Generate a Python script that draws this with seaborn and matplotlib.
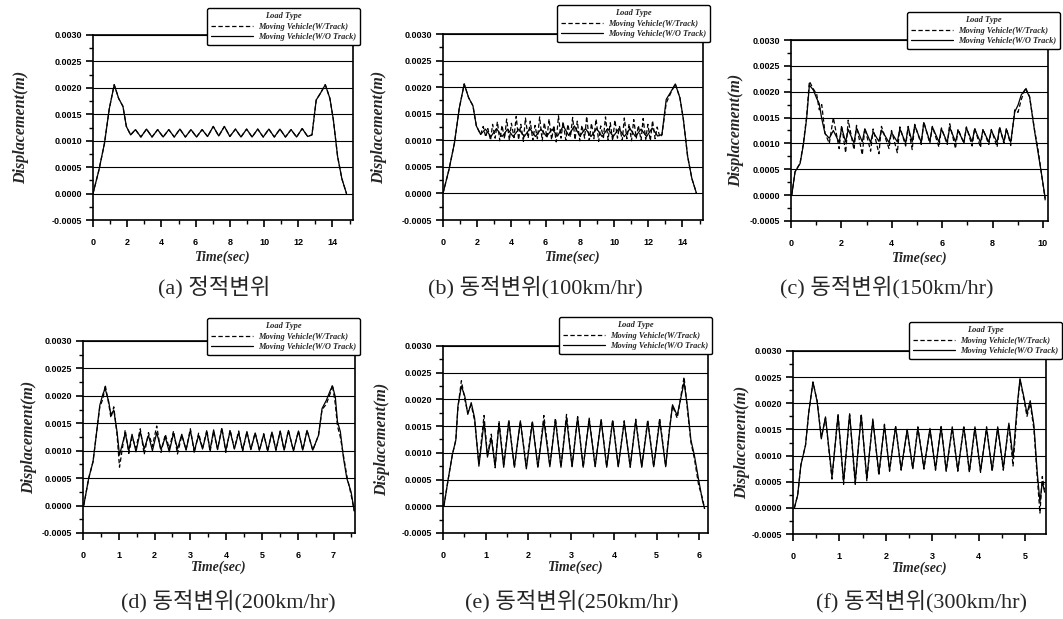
import matplotlib
matplotlib.use("Agg")
import matplotlib.pyplot as plt
from matplotlib.ticker import MultipleLocator, FuncFormatter
from matplotlib.font_manager import FontProperties
import seaborn as sns

# ---------------- data ----------------
series_names = ["Moving Vehicle(W/Track)", "Moving Vehicle(W/O Track)"]
legend_title = "Load Type"
captions = ["(a) 정적변위", "(b) 동적변위(100km/hr)", "(c) 동적변위(150km/hr)",
            "(d) 동적변위(200km/hr)", "(e) 동적변위(250km/hr)", "(f) 동적변위(300km/hr)"]
x_label = "Time(sec)"
y_label = "Displacement(m)"

# (a) static, both load types coincide
a_t = [0.00, 0.35, 0.67, 0.95, 1.24, 1.50, 1.75, 1.95, 2.20,
       2.48, 2.80, 3.13, 3.45, 3.78, 4.10, 4.43, 4.75, 5.08, 5.40, 5.73, 6.05, 6.38, 6.70, 7.03, 7.35,
       7.68, 8.00, 8.33, 8.65, 8.98, 9.30, 9.63, 9.95, 10.28, 10.60, 10.93, 11.25, 11.58, 11.90, 12.23, 12.55,
       12.80, 13.05, 13.30, 13.58, 13.85, 14.05, 14.30, 14.55, 14.82]
a_y = [0.0, 0.00045, 0.00095, 0.00160, 0.00206, 0.00180, 0.00165, 0.00127, 0.00111,
       0.00121, 0.00107, 0.00122, 0.00107, 0.00121, 0.00107, 0.00121, 0.00107, 0.00122, 0.00107, 0.00121, 0.00107,
       0.00121, 0.00108, 0.00127, 0.00109, 0.00127, 0.00108, 0.00122, 0.00107, 0.00122, 0.00107, 0.00122, 0.00107,
       0.00122, 0.00107, 0.00122, 0.00107, 0.00121, 0.00107, 0.00123, 0.00108,
       0.00111, 0.00177, 0.00190, 0.00206, 0.00180, 0.00140, 0.00070, 0.00028, 0.0]

# (b) 100 km/hr
b_wo_t = a_t
b_wo_y = a_y
b_w_t = [0.00, 0.35, 0.67, 0.95, 1.24, 1.50, 1.75, 1.95, 2.20,
         2.35, 2.50, 2.62, 2.78, 2.90, 3.05, 3.18, 3.32, 3.45, 3.60, 3.72, 3.88, 4.00, 4.15, 4.28, 4.42, 4.55,
         4.70, 4.82, 4.98, 5.10, 5.25, 5.38, 5.52, 5.65, 5.80, 5.92, 6.08, 6.20, 6.35, 6.48, 6.62, 6.75, 6.90,
         7.02, 7.18, 7.30, 7.45, 7.58, 7.72, 7.85, 8.00, 8.12, 8.28, 8.40, 8.55, 8.68, 8.82, 8.95, 9.10, 9.22,
         9.38, 9.50, 9.65, 9.78, 9.92, 10.05, 10.20, 10.32, 10.48, 10.60, 10.75, 10.88, 11.02, 11.15, 11.30,
         11.42, 11.58, 11.70, 11.85, 11.98, 12.12, 12.25, 12.40, 12.52, 12.68,
         12.80, 13.05, 13.30, 13.58, 13.85, 14.05, 14.30, 14.55, 14.82]
b_w_y = [0.0, 0.00045, 0.00095, 0.00160, 0.00206, 0.00180, 0.00165, 0.00127, 0.00111,
         0.00126, 0.00106, 0.00122, 0.00100, 0.00130, 0.00104, 0.00135, 0.00099, 0.00128, 0.00103,
         0.00140, 0.00100, 0.00132, 0.00105, 0.00145, 0.00101, 0.00130, 0.00098, 0.00142, 0.00104,
         0.00136, 0.00100, 0.00128, 0.00103, 0.00144, 0.00099, 0.00133, 0.00105, 0.00140, 0.00101,
         0.00128, 0.00097, 0.00146, 0.00104, 0.00135, 0.00100, 0.00130, 0.00106, 0.00143, 0.00101,
         0.00136, 0.00099, 0.00128, 0.00104, 0.00145, 0.00100, 0.00132, 0.00103, 0.00140, 0.00098,
         0.00127, 0.00105, 0.00144, 0.00101, 0.00133, 0.00099, 0.00138, 0.00104, 0.00126, 0.00100,
         0.00142, 0.00103, 0.00131, 0.00099, 0.00139, 0.00104, 0.00128, 0.00100, 0.00141, 0.00102,
         0.00130, 0.00099, 0.00137, 0.00103, 0.00125, 0.00106,
         0.00110, 0.00170, 0.00188, 0.00206, 0.00180, 0.00140, 0.00070, 0.00028, 0.0]

# (c) 150 km/hr
c_t = [0.03, 0.16, 0.36, 0.49, 0.62, 0.73, 0.89, 1.02, 1.12, 1.22, 1.35, 1.52,
       1.68, 1.91, 2.01, 2.17, 2.27, 2.50, 2.60, 2.83, 2.93, 3.16, 3.26, 3.49, 3.59, 3.89, 3.99, 4.22,
       4.32, 4.55, 4.65, 4.81, 4.91, 5.17, 5.27, 5.51, 5.61, 5.87, 5.97, 6.20, 6.30, 6.53, 6.63, 6.86,
       6.96, 7.19, 7.29, 7.52, 7.62, 7.85, 7.95, 8.18, 8.28, 8.45, 8.55, 8.72,
       8.88, 9.01, 9.14, 9.31, 9.47, 9.67, 9.80, 9.93, 10.09]
c_wo_y = [0.0, 0.00045, 0.00061, 0.00097, 0.00148, 0.00213, 0.00203, 0.00187, 0.00177, 0.00148, 0.00119, 0.00110,
          0.00125, 0.00102, 0.00130, 0.00103, 0.00127, 0.00101, 0.00130, 0.00103, 0.00128, 0.00102, 0.00122,
          0.00104, 0.00126, 0.00102, 0.00121, 0.00103, 0.00128, 0.00101, 0.00131, 0.00103, 0.00135, 0.00102,
          0.00140, 0.00104, 0.00132, 0.00103, 0.00128, 0.00102, 0.00131, 0.00103, 0.00125, 0.00102, 0.00130,
          0.00103, 0.00128, 0.00102, 0.00126, 0.00103, 0.00125, 0.00102, 0.00130, 0.00103, 0.00127, 0.00102,
          0.00161, 0.00174, 0.00194, 0.00205, 0.00190, 0.00123, 0.00084, 0.00045, -0.00006]
c_w_y = [0.0, 0.00045, 0.00062, 0.00100, 0.00152, 0.00220, 0.00205, 0.00195, 0.00165, 0.00175, 0.00120, 0.00100,
         0.00150, 0.00090, 0.00135, 0.00082, 0.00145, 0.00088, 0.00135, 0.00078, 0.00130, 0.00085, 0.00128,
         0.00080, 0.00133, 0.00090, 0.00125, 0.00082, 0.00132, 0.00095, 0.00133, 0.00088, 0.00137, 0.00098,
         0.00142, 0.00100, 0.00133, 0.00093, 0.00130, 0.00098, 0.00138, 0.00090, 0.00128, 0.00100, 0.00132,
         0.00095, 0.00130, 0.00092, 0.00128, 0.00098, 0.00127, 0.00093, 0.00132, 0.00100, 0.00130, 0.00096,
         0.00165, 0.00160, 0.00185, 0.00208, 0.00190, 0.00125, 0.00090, 0.00045, -0.00010]

# (d) 200 km/hr
d_t = [0.02, 0.16, 0.28, 0.37, 0.47, 0.56, 0.62, 0.72, 0.78, 0.86, 0.95, 1.02,
       1.18, 1.28, 1.37, 1.48, 1.60, 1.71, 1.83, 1.94, 2.06, 2.18, 2.30, 2.41, 2.53, 2.64, 2.76, 2.88,
       3.00, 3.11, 3.23, 3.34, 3.46, 3.55, 3.65, 3.76, 3.88, 3.99, 4.11, 4.23, 4.35, 4.46, 4.58, 4.69,
       4.81, 4.93, 5.05, 5.16, 5.28, 5.39, 5.51, 5.62, 5.74, 5.88, 6.02, 6.14, 6.26, 6.42,
       6.58, 6.68, 6.80, 6.91, 6.97, 7.05, 7.11, 7.19, 7.28, 7.37, 7.49, 7.58]
d_wo_y = [0.0, 0.00050, 0.00080, 0.00128, 0.00183, 0.00204, 0.00213, 0.00189, 0.00165, 0.00174, 0.00135, 0.00092,
          0.00132, 0.00100, 0.00130, 0.00098, 0.00135, 0.00103, 0.00128, 0.00100, 0.00133, 0.00102, 0.00125,
          0.00098, 0.00132, 0.00103, 0.00130, 0.00101, 0.00137, 0.00100, 0.00128, 0.00103, 0.00135, 0.00101,
          0.00138, 0.00102, 0.00140, 0.00100, 0.00136, 0.00103, 0.00133, 0.00101, 0.00135, 0.00102, 0.00132,
          0.00101, 0.00130, 0.00100, 0.00134, 0.00101, 0.00136, 0.00101, 0.00137, 0.00100, 0.00136, 0.00101,
          0.00137, 0.00101,
          0.00128, 0.00177, 0.00192, 0.00210, 0.00218, 0.00198, 0.00153, 0.00135, 0.00086, 0.00050, 0.00025, -0.00010]
d_w_y = [0.0, 0.00050, 0.00080, 0.00128, 0.00180, 0.00195, 0.00220, 0.00185, 0.00160, 0.00180, 0.00130, 0.00070,
         0.00138, 0.00095, 0.00125, 0.00105, 0.00140, 0.00093, 0.00133, 0.00108, 0.00145, 0.00097, 0.00130,
         0.00104, 0.00136, 0.00094, 0.00128, 0.00102, 0.00140, 0.00096, 0.00132, 0.00104, 0.00138, 0.00098,
         0.00135, 0.00103, 0.00142, 0.00097, 0.00138, 0.00104, 0.00136, 0.00099, 0.00134, 0.00103, 0.00133,
         0.00100, 0.00131, 0.00099, 0.00134, 0.00101, 0.00135, 0.00101, 0.00137, 0.00100, 0.00136, 0.00101,
         0.00137, 0.00101,
         0.00128, 0.00175, 0.00185, 0.00205, 0.00220, 0.00185, 0.00145, 0.00125, 0.00090, 0.00055, 0.00020, -0.00010]

# (e) 250 km/hr
e_t = [0.02, 0.12, 0.22, 0.30, 0.35, 0.43, 0.51, 0.58, 0.66, 0.74, 0.84,
       0.96, 1.04, 1.13, 1.22, 1.31, 1.42, 1.54, 1.67, 1.81, 1.95, 2.09, 2.22, 2.36, 2.50, 2.63, 2.76,
       2.89, 3.02, 3.15, 3.28, 3.42, 3.56, 3.70, 3.83, 3.97, 4.10, 4.24, 4.38, 4.51, 4.65, 4.79, 4.93,
       5.07, 5.21,
       5.29, 5.37, 5.48, 5.64, 5.72, 5.80, 5.88, 5.98, 6.07, 6.12]
e_wo_y = [0.0, 0.00050, 0.00097, 0.00124, 0.00188, 0.00225, 0.00206, 0.00172, 0.00194, 0.00165, 0.00075,
          0.00158, 0.00092, 0.00128, 0.00075, 0.00155, 0.00073, 0.00158, 0.00074, 0.00160, 0.00070, 0.00157,
          0.00073, 0.00160, 0.00074, 0.00162, 0.00073, 0.00165, 0.00074, 0.00166, 0.00073, 0.00163, 0.00074,
          0.00162, 0.00073, 0.00160, 0.00074, 0.00158, 0.00074, 0.00160, 0.00073, 0.00158, 0.00074,
          0.00160, 0.00074,
          0.00136, 0.00190, 0.00170, 0.00232, 0.00186, 0.00124, 0.00096, 0.00050, 0.00011, -0.00004]
e_w_y = [0.0, 0.00050, 0.00097, 0.00124, 0.00185, 0.00235, 0.00200, 0.00175, 0.00190, 0.00160, 0.00080,
         0.00170, 0.00095, 0.00135, 0.00072, 0.00160, 0.00078, 0.00162, 0.00072, 0.00158, 0.00075, 0.00160,
         0.00072, 0.00170, 0.00076, 0.00165, 0.00074, 0.00172, 0.00075, 0.00168, 0.00073, 0.00165, 0.00075,
         0.00163, 0.00074, 0.00162, 0.00075, 0.00160, 0.00073, 0.00163, 0.00075, 0.00162, 0.00074,
         0.00165, 0.00075,
         0.00140, 0.00188, 0.00165, 0.00242, 0.00180, 0.00120, 0.00090, 0.00040, 0.00015, -0.00005]

# (f) 300 km/hr
f_t = [0.03, 0.10, 0.17, 0.27, 0.34, 0.43, 0.52, 0.61, 0.70,
       0.84, 0.97, 1.09, 1.22, 1.34, 1.47, 1.59, 1.72, 1.85, 1.97,
       2.08, 2.21, 2.33, 2.46, 2.58, 2.69, 2.82, 2.95, 3.07, 3.19,
       3.30, 3.43, 3.55, 3.68, 3.80, 3.92, 4.04, 4.17, 4.29, 4.41,
       4.53, 4.65, 4.74, 4.83, 4.89, 4.98, 5.04, 5.11, 5.19, 5.26,
       5.32, 5.37, 5.42]
f_wo_y = [0.0, 0.00024, 0.00082, 0.00120, 0.00183, 0.00241, 0.00203, 0.00132, 0.00174,
          0.00059, 0.00177, 0.00050, 0.00180, 0.00050, 0.00177, 0.00056, 0.00168, 0.00066, 0.00158,
          0.00072, 0.00155, 0.00074, 0.00150, 0.00076, 0.00152, 0.00076, 0.00152, 0.00074, 0.00155,
          0.00072, 0.00155, 0.00072, 0.00155, 0.00070, 0.00155, 0.00070, 0.00152, 0.00072, 0.00155,
          0.00075, 0.00162, 0.00095, 0.00196, 0.00247, 0.00209, 0.00180, 0.00205, 0.00158, 0.00069,
          0.00011, 0.00050, 0.00030]
f_w_y = [0.0, 0.00024, 0.00082, 0.00120, 0.00183, 0.00240, 0.00205, 0.00135, 0.00172,
         0.00055, 0.00180, 0.00045, 0.00178, 0.00045, 0.00180, 0.00052, 0.00170, 0.00062, 0.00160,
         0.00070, 0.00157, 0.00072, 0.00148, 0.00074, 0.00155, 0.00074, 0.00150, 0.00072, 0.00158,
         0.00070, 0.00152, 0.00070, 0.00157, 0.00068, 0.00152, 0.00068, 0.00155, 0.00070, 0.00152,
         0.00072, 0.00160, 0.00080, 0.00190, 0.00245, 0.00205, 0.00175, 0.00200, 0.00150, 0.00060,
         -0.00010, 0.00060, 0.00035]

x_max = [15.2, 15.2, 10.2, 7.6, 6.2, 5.45]
x_major = [2, 2, 2, 1, 1, 1]
x_minor = [1, 1, 1, 0.5, 0.5, 0.5]
y_min, y_max, y_major, y_minor = -0.0005, 0.0030, 0.0005, 0.00025

# ---------------- figure ----------------
sns.set_style("ticks")
plt.rcParams['font.family'] = ['Liberation Serif', 'Noto Sans CJK KR', 'DejaVu Sans']

W, H = 1063, 619
fig = plt.figure(figsize=(W / 100, H / 100), dpi=100)

# layout in pixels: (left, right, top, bottom)
rects = [(93, 353, 35, 220), (443, 703, 34, 220), (791, 1048, 40, 221),
         (83, 355, 341, 533), (443, 708, 346, 533), (793, 1046, 351, 534)]
legend_pos = [(360, 8), (710, 5), (1060, 12), (360, 318), (712, 317), (1062, 322)]
ylabel_x = [22, 380, 737, 30, 383, 743]
caption_pos = [(214, 287), (535, 287), (887, 287), (228, 601), (572, 601), (922, 601)]

panels = [
    ((a_t, a_y), (a_t, a_y)),
    ((b_w_t, b_w_y), (b_wo_t, b_wo_y)),
    ((c_t, c_w_y), (c_t, c_wo_y)),
    ((d_t, d_w_y), (d_t, d_wo_y)),
    ((e_t, e_w_y), (e_t, e_wo_y)),
    ((f_t, f_w_y), (f_t, f_wo_y)),
]

lab_font = FontProperties(family='Liberation Serif', weight='bold', style='italic', size=11.5)
xlab_font = FontProperties(family='Liberation Serif', weight='bold', style='italic', size=10)
leg_font = FontProperties(family='Liberation Serif', weight='bold', style='italic', size=6)
tick_font = FontProperties(family='Liberation Sans', weight='bold', size=6.5)


def yfmt(v, p):
    if abs(v) < 1e-9:
        v = 0.0
    return f"{v:.4f}"


for i, ((w_t, w_y), (wo_t, wo_y)) in enumerate(panels):
    l, r, t, b = rects[i]
    ax = fig.add_axes([l / W, 1 - b / H, (r - l) / W, (b - t) / H])
    sns.lineplot(x=w_t, y=w_y, ax=ax, color='black', linewidth=0.9, linestyle=(0, (3.5, 2)),
                 estimator=None, sort=False, label=series_names[0])
    sns.lineplot(x=wo_t, y=wo_y, ax=ax, color='black', linewidth=0.9, linestyle='-',
                 estimator=None, sort=False, label=series_names[1])

    ax.set_xlim(0, x_max[i])
    ax.set_ylim(y_min, y_max)
    ax.xaxis.set_major_locator(MultipleLocator(x_major[i]))
    ax.xaxis.set_minor_locator(MultipleLocator(x_minor[i]))
    ax.yaxis.set_major_locator(MultipleLocator(y_major))
    ax.yaxis.set_minor_locator(MultipleLocator(y_minor))
    ax.yaxis.set_major_formatter(FuncFormatter(yfmt))
    ax.xaxis.set_major_formatter(FuncFormatter(lambda v, p: f"{v:.0f}"))
    ax.yaxis.grid(True, which='major', color='black', linewidth=0.8)
    ax.xaxis.grid(False)
    ax.tick_params(which='major', direction='out', length=5, width=1.2, colors='black',
                   bottom=True, left=True, top=False, right=False)
    ax.tick_params(which='minor', direction='out', length=3, width=1.0, colors='black',
                   bottom=True, left=True, top=False, right=False)
    ax.tick_params(axis='x', which='major', pad=8)
    ax.tick_params(axis='y', which='major', pad=3)
    for lab in ax.get_xticklabels() + ax.get_yticklabels():
        lab.set_fontproperties(tick_font)
    for sp in ax.spines.values():
        sp.set_visible(True)
        sp.set_color('black')
        sp.set_linewidth(1.2)

    ax.set_xlabel(x_label, fontproperties=xlab_font)
    ax.set_ylabel(y_label, fontproperties=lab_font)
    ax.yaxis.set_label_coords((ylabel_x[i] + 7 - l) / (r - l), 0.5)
    ax.xaxis.set_label_coords(0.5, -(31 if i < 3 else 28) / (b - t))

    lx, ly = legend_pos[i]
    leg = ax.legend(title=legend_title, loc='upper right',
                    bbox_to_anchor=(lx / W, 1 - ly / H), bbox_transform=fig.transFigure,
                    prop=leg_font, title_fontproperties=leg_font, frameon=True, fancybox=True,
                    framealpha=1, edgecolor='black', handlelength=5.0, handletextpad=0.6,
                    borderpad=0.5, labelspacing=0.3, borderaxespad=0)
    leg.get_frame().set_linewidth(1.0)
    for ln in leg.get_lines():
        ln.set_linewidth(0.9)

    cx, cy = caption_pos[i]
    fig.text(cx / W, 1 - cy / H, captions[i], ha='center', va='center', fontsize=16,
             family=['Liberation Serif', 'Noto Sans CJK KR'])

fig.savefig("out.png", dpi=100)
